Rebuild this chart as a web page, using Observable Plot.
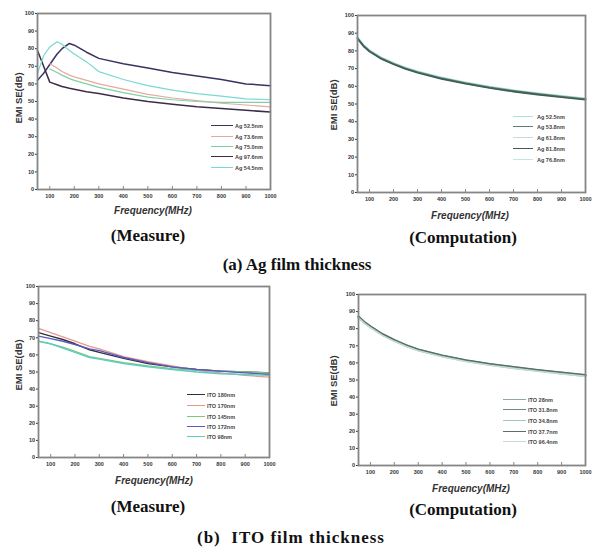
<!DOCTYPE html>
<html><head><meta charset="utf-8">
<script src="https://cdn.jsdelivr.net/npm/d3@7"></script>
<script src="https://cdn.jsdelivr.net/npm/@observablehq/plot@0.6"></script>
<style>
body{margin:0;background:#fff;}
#root{position:relative;width:592px;height:547px;overflow:hidden;font-family:"Liberation Sans",Arial,sans-serif;background:#fff;}
.cap{position:absolute;font-family:"Liberation Serif","Times New Roman",serif;font-weight:bold;color:#111;white-space:pre;transform:translate(-50%,-50%);font-size:17px;}
.xl{position:absolute;font-style:italic;font-weight:bold;font-size:10px;color:#333;white-space:nowrap;transform:translate(-50%,-50%);}
.yl{position:absolute;font-weight:bold;font-size:9.5px;color:#333;white-space:nowrap;transform:translate(-50%,-50%) rotate(-90deg);}
.leg{position:absolute;font-size:5.5px;font-weight:bold;color:#444;white-space:nowrap;transform:translateY(-50%);}
.sw{position:absolute;height:0;}
</style></head><body><div id="root"></div>
<script>
// ---------- shared axes ----------
const xTicks = [100, 200, 300, 400, 500, 600, 700, 800, 900, 1000];
const yTicks = [0, 10, 20, 30, 40, 50, 60, 70, 80, 90, 100];

// ---------- (a) Ag film thickness : Measure ----------
const agMeasFreq = [50, 75, 100, 130, 150, 180, 200, 250, 300, 400, 500, 600, 700, 800, 900, 1000];
const agMeasLabels = ["Ag 52.5nm", "Ag 73.6nm", "Ag 75.0nm", "Ag 97.6nm", "Ag 54.5nm"];
const agMeasColors = ["#3a3260", "#e6a9a0", "#7fd0a6", "#3d2c48", "#79d9d0"];
const agMeas1 = [62, 66, 71, 77, 80, 83, 82, 78, 74.5, 71.5, 69, 66.5, 64.5, 62.5, 60, 59];
const agMeas2 = [null, null, 71.5, 69, 67, 65, 64, 62, 60, 57, 54, 52, 50.5, 49, 48, 47];
const agMeas3 = [null, null, 68.5, 66.5, 65, 63, 62, 60, 58, 55, 52.5, 51, 50, 49.5, 49.5, 49.5];
const agMeas4 = [79, 70, 61, 59.5, 58.5, 57.5, 57, 55.5, 54.5, 52, 50, 48.5, 47, 46, 45, 44];
const agMeas5 = [66, 76, 81, 84, 82.5, 79, 77, 72.5, 67, 62.5, 59, 56.5, 54.5, 53, 51.5, 51];

// ---------- (a) Ag film thickness : Computation ----------
const agCompFreq = [50, 75, 100, 150, 200, 250, 300, 400, 500, 600, 700, 800, 900, 1000];
const agCompLabels = ["Ag 52.5nm", "Ag 53.8nm", "Ag 61.8nm", "Ag 81.8nm", "Ag 76.8nm"];
const agCompColors = ["#a9e2d8", "#5d7d75", "#c9d9d3", "#405c56", "#bde9df"];
const agComp1 = [87.5, 83.2, 80.2, 76.0, 73.0, 70.4, 68.3, 64.8, 62.0, 59.6, 57.6, 55.9, 54.4, 53.0];
const agComp2 = [87.3, 83.0, 80.0, 75.8, 72.8, 70.2, 68.1, 64.6, 61.8, 59.4, 57.4, 55.7, 54.2, 52.8];
const agComp3 = [87.1, 82.8, 79.8, 75.6, 72.6, 70.0, 67.9, 64.4, 61.6, 59.2, 57.2, 55.5, 54.0, 52.6];
const agComp4 = [86.9, 82.6, 79.6, 75.4, 72.4, 69.8, 67.7, 64.2, 61.4, 59.0, 57.0, 55.3, 53.8, 52.4];
const agComp5 = [87.7, 83.4, 80.4, 76.2, 73.2, 70.6, 68.5, 65.0, 62.2, 59.8, 57.8, 56.1, 54.6, 53.2];

// ---------- (b) ITO film thickness : Measure ----------
const itoMeasFreq = [50, 100, 150, 200, 260, 300, 400, 500, 600, 700, 800, 900, 1000];
const itoMeasLabels = ["ITO 180nm", "ITO 170nm", "ITO 145nm", "ITO 172nm", "ITO 98nm"];
const itoMeasColors = ["#2f2f3f", "#e7998f", "#80c77c", "#5b5bbd", "#5ccbc2"];
const itoMeas1 = [73, 71, 69, 66.5, 63, 61.5, 58, 55, 53, 51.5, 50.5, 50, 49.5];
const itoMeas2 = [75.5, 73, 70.5, 68, 65, 63.5, 59, 56, 53.5, 51, 49.5, 48, 47];
const itoMeas3 = [68, 66.5, 64.5, 62, 59, 58, 55.5, 53.5, 52, 51, 50.5, 50, 49.5];
const itoMeas4 = [71, 69.5, 68, 66, 63.5, 62.5, 58.5, 55.5, 53, 51.5, 50.5, 49.5, 48.5];
const itoMeas5 = [68, 66.5, 64, 61.5, 58.5, 57.5, 55, 53, 51.5, 50, 49, 48.5, 48];

// ---------- (b) ITO film thickness : Computation ----------
const itoCompFreq = [50, 75, 100, 150, 200, 250, 300, 400, 500, 600, 700, 800, 900, 1000];
const itoCompLabels = ["ITO 28nm", "ITO 31.8nm", "ITO 34.8nm", "ITO 37.7nm", "ITO 96.4nm"];
const itoCompColors = ["#8fa8a0", "#6f8a82", "#a8c4bb", "#56706a", "#c3dcd4"];
const itoComp1 = [86.9, 83.7, 81.2, 76.7, 73.2, 70.2, 67.7, 64.2, 61.4, 59.2, 57.4, 55.7, 54.2, 52.7];
const itoComp2 = [86.7, 83.5, 81.0, 76.5, 73.0, 70.0, 67.5, 64.0, 61.2, 59.0, 57.2, 55.5, 54.0, 52.5];
const itoComp3 = [86.5, 83.3, 80.8, 76.3, 72.8, 69.8, 67.3, 63.8, 61.0, 58.8, 57.0, 55.3, 53.8, 52.3];
const itoComp4 = [87.1, 83.9, 81.4, 76.9, 73.4, 70.4, 67.9, 64.4, 61.6, 59.4, 57.6, 55.9, 54.4, 52.9];
const itoComp5 = [86.3, 83.1, 80.6, 76.1, 72.6, 69.6, 67.1, 63.6, 60.8, 58.6, 56.8, 55.1, 53.6, 52.1];

const root = document.getElementById("root");

function series(freq, vals) {
  return freq.map((f, i) => ({f, v: vals[i]})).filter(d => d.v != null);
}

function addLegend(labels, colors, sw, legX, rows) {
  labels.forEach((lab, i) => {
    const y = rows[i];
    const s = document.createElement("div");
    s.className = "sw";
    s.style.left = legX[0] + "px";
    s.style.width = (legX[1] - legX[0]) + "px";
    s.style.top = (y - sw[i] / 2) + "px";
    s.style.borderTop = sw[i] + "px solid " + colors[i];
    root.appendChild(s);
    const t = document.createElement("div");
    t.className = "leg";
    t.style.left = legX[2] + "px";
    t.style.top = y + "px";
    t.textContent = lab;
    root.appendChild(t);
  });
}

function panel(o) {
  const marks = [
    Plot.axisY({ticks: yTicks, tickSize: 2, tickPadding: 1.5, fontSize: 5.5, fontWeight: "bold", label: null}),
    Plot.axisX({ticks: xTicks, tickSize: 0, tickPadding: 5, fontSize: 5.5, fontWeight: "bold", label: null, tickFormat: d => String(d)}),
    Plot.axisX({ticks: xTicks, tickSize: -3, tickFormat: () => "", label: null, stroke: "#888"}),
    ...o.sets.map((s, i) => Plot.line(series(o.freq, s), {x: "f", y: "v", stroke: o.colors[i], strokeWidth: o.sw[i]})),
    Plot.frame({stroke: "#858585", strokeWidth: 1.8})
  ];
  const p = Plot.plot({
    width: o.width, height: o.height,
    marginTop: o.mt, marginRight: o.mr, marginBottom: o.mb, marginLeft: o.ml,
    x: {domain: [50, 1000]},
    y: {domain: [0, 100]},
    style: {fontFamily: "Liberation Sans, Arial, sans-serif", color: "#333", background: "transparent", overflow: "visible"},
    marks
  });
  p.style.position = "absolute";
  p.style.left = o.left + "px";
  p.style.top = o.top + "px";
  root.appendChild(p);

  const xl = document.createElement("div");
  xl.className = "xl"; xl.textContent = "Frequency(MHz)";
  xl.style.left = o.xl[0] + "px"; xl.style.top = o.xl[1] + "px";
  root.appendChild(xl);
  const yl = document.createElement("div");
  yl.className = "yl"; yl.textContent = "EMI SE(dB)";
  yl.style.left = o.yl[0] + "px"; yl.style.top = o.yl[1] + "px";
  root.appendChild(yl);
}

panel({left: 0, top: 0, width: 290, height: 220, mt: 13, mr: 20, mb: 31, ml: 37,
  freq: agMeasFreq, sets: [agMeas1, agMeas2, agMeas3, agMeas4, agMeas5],
  colors: agMeasColors, sw: [1.5, 1.2, 1.2, 1.5, 1.2], xl: [153, 210], yl: [18, 98]});
addLegend(agMeasLabels, agMeasColors, [1.5, 1.2, 1.2, 1.5, 1.2], [211, 233, 235], [126, 137, 147, 157, 168]);

panel({left: 300, top: 0, width: 292, height: 225, mt: 15, mr: 7, mb: 33, ml: 57,
  freq: agCompFreq, sets: [agComp5, agComp1, agComp3, agComp2, agComp4],
  colors: [agCompColors[4], agCompColors[0], agCompColors[2], agCompColors[1], agCompColors[3]],
  sw: [1.8, 1.8, 1.6, 1.6, 1.6], xl: [470, 215], yl: [333, 105]});
addLegend(agCompLabels, agCompColors, [1.2, 1.2, 1.2, 1.2, 1.2], [513, 533, 537], [117, 127, 138, 149, 160]);

panel({left: 0, top: 270, width: 290, height: 210, mt: 16, mr: 21, mb: 23, ml: 38,
  freq: itoMeasFreq, sets: [itoMeas1, itoMeas2, itoMeas3, itoMeas4, itoMeas5],
  colors: itoMeasColors, sw: [1.4, 1.3, 1.3, 1.4, 1.4], xl: [154, 480], yl: [18, 365]});
addLegend(itoMeasLabels, itoMeasColors, [1.4, 1.3, 1.3, 1.4, 1.4], [187, 205, 207], [395, 406, 417, 427, 437]);

panel({left: 300, top: 270, width: 292, height: 215, mt: 24, mr: 7, mb: 20, ml: 58,
  freq: itoCompFreq, sets: [itoComp1, itoComp2, itoComp3, itoComp4, itoComp5],
  colors: itoCompColors, sw: [2, 2, 1.8, 2, 1.6], xl: [471, 488], yl: [333, 381]});
addLegend(itoCompLabels, itoCompColors, [1.6, 1.6, 1.4, 1.6, 1.2], [503, 526, 528], [400, 410, 421, 432, 442]);

// captions
[["(Measure)", 148, 236, 0], ["(Computation)", 463, 238, 0], ["(a) Ag film thickness", 297, 265, 0],
 ["(Measure)", 148, 507, 0], ["(Computation)", 463, 510, 0], ["(b)  ITO film thickness", 291, 538, 1]]
.forEach(([txt, x, y, ls]) => {
  const d = document.createElement("div");
  d.className = "cap"; d.textContent = txt;
  d.style.left = x + "px"; d.style.top = y + "px";
  d.style.letterSpacing = ls + "px";
  root.appendChild(d);
});
</script>
</body></html>
